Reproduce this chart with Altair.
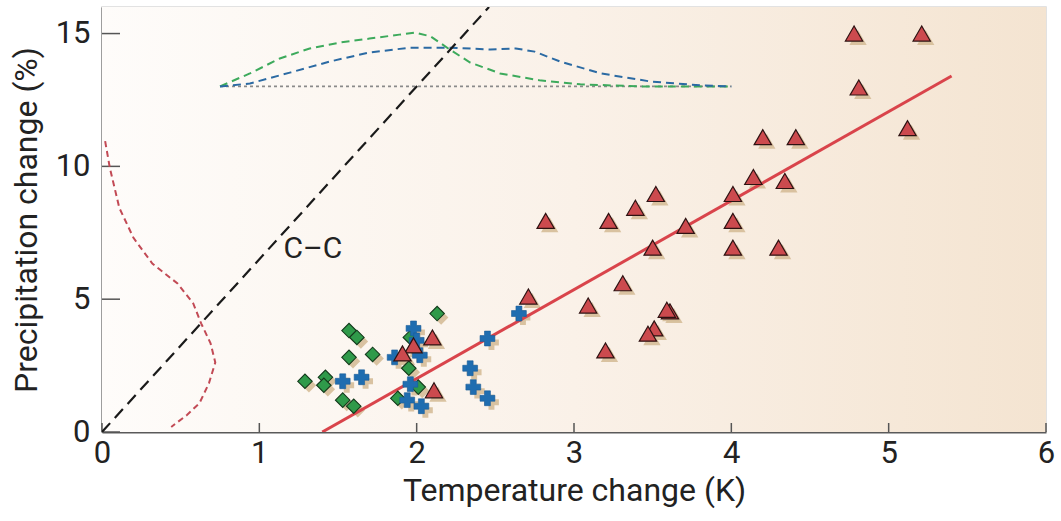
import altair as alt
import pandas as pd

# --- model results: temperature change (K) vs precipitation change (%) ---
tri_x = [4.78, 5.21, 4.81, 5.12, 4.20, 4.41, 4.14, 4.34, 4.01, 3.52, 3.39, 3.22, 2.82, 3.71, 4.01,
         3.50, 4.01, 4.30, 3.31, 2.71, 3.09, 3.61, 3.59, 3.51, 3.47, 3.20, 2.10, 1.98, 1.91, 2.11]
tri_y = [15.0, 15.0, 12.97, 11.44, 11.1, 11.1, 9.6, 9.45, 8.96, 8.96, 8.44, 7.95, 7.95, 7.76, 7.95,
         6.94, 6.94, 6.94, 5.6, 5.1, 4.76, 4.54, 4.6, 3.9, 3.7, 3.07, 3.56, 3.26, 2.96, 1.57]

cross_x = [1.98, 2.00, 2.02, 1.86, 1.53, 1.65, 1.96, 1.94, 2.03, 2.34, 2.36, 2.45, 2.45, 2.65]
cross_y = [3.90, 3.45, 2.89, 2.81, 1.91, 2.06, 1.80, 1.20, 0.97, 2.40, 1.69, 1.27, 3.52, 4.46]

dia_x = [2.13, 1.57, 1.62, 1.57, 1.72, 1.95, 1.96, 1.29, 1.42, 1.41, 1.53, 1.60, 1.88, 2.01]
dia_y = [4.46, 3.82, 3.56, 2.81, 2.92, 2.40, 3.56, 1.91, 2.06, 1.76, 1.20, 0.97, 1.27, 1.69]

# regression fit through the triangles
fit_x = [1.40, 5.40]
fit_y = [0.0, 13.4]

# Clausius-Clapeyron scaling line
cc_x = [0.0, 2.46]
cc_y = [0.0, 16.0]
cc_label = ["C\u2013C"]
cc_label_x = [1.34]
cc_label_y = [6.9]

# temperature-change distributions drawn along the top (baseline at 13 %)
green_x = [0.75, 0.94, 1.13, 1.32, 1.51, 1.70, 1.89, 1.99, 2.09, 2.21, 2.34, 2.53, 2.78, 3.04, 3.42, 4.00]
green_y = [13.01, 13.5, 14.06, 14.44, 14.66, 14.81, 14.96, 15.04, 14.89, 14.4, 13.91, 13.5, 13.24, 13.09, 13.01, 13.01]
blue_x = [0.75, 0.94, 1.20, 1.45, 1.70, 1.96, 2.21, 2.47, 2.63, 2.75, 2.91, 3.17, 3.48, 3.80, 4.00]
blue_y = [13.01, 13.12, 13.54, 13.95, 14.29, 14.47, 14.47, 14.4, 14.44, 14.32, 13.95, 13.5, 13.2, 13.05, 13.01]
base_x = [0.75, 4.00]
base_y = [13.01, 13.01]

# precipitation-change distribution drawn along the left
red_x = [0.02, 0.05, 0.11, 0.20, 0.32, 0.48, 0.58, 0.63, 0.69, 0.72, 0.68, 0.62, 0.54, 0.44]
red_y = [10.95, 9.94, 8.44, 7.31, 6.34, 5.59, 4.84, 4.09, 3.34, 2.62, 1.84, 1.09, 0.64, 0.19]

x_ticks = [0, 1, 2, 3, 4, 5, 6]
y_ticks = [0, 5, 10, 15]

W, H = 944, 425
FONT = "Roboto"

xs = alt.Scale(domain=[0, 6], nice=False)
ys = alt.Scale(domain=[0, 16], nice=False)


def df(xv, yv, **extra):
    d = pd.DataFrame({"x": xv, "y": yv})
    for k, v in extra.items():
        d[k] = v
    return d


def X(**kw):
    return alt.X("x:Q", scale=xs, **kw)


def Y(**kw):
    return alt.Y("y:Q", scale=ys, **kw)


# gradient backdrop of the plotting area
backdrop = alt.Chart(pd.DataFrame({"a": [0]})).mark_rect(
    color=alt.LinearGradient(
        gradient="linear", x1=0, x2=1, y1=0, y2=0,
        stops=[alt.GradientStop(color="#fefcfa", offset=0),
               alt.GradientStop(color="#faf1e8", offset=0.5),
               alt.GradientStop(color="#f4e4d1", offset=1)],
    )
).encode(x=alt.value(0), x2=alt.value(W), y=alt.value(0), y2=alt.value(H))

axes = alt.Chart(df([0], [0])).mark_point(opacity=0).encode(
    x=X(title="Temperature change (K)",
        axis=alt.Axis(values=x_ticks, format="d", ticks=False, grid=False, labelFlush=False)),
    y=Y(title="Precipitation change (%)",
        axis=alt.Axis(values=y_ticks, format="d", ticks=False, grid=False, labelFlush=False)),
)

xtick_rules = alt.Chart(pd.DataFrame({"x": x_ticks})).mark_rule(
    color="#555555", strokeWidth=1.5
).encode(x=X(), y=alt.value(H), y2=alt.value(H - 9))

ytick_rules = alt.Chart(pd.DataFrame({"y": y_ticks})).mark_rule(
    color="#555555", strokeWidth=1.5
).encode(y=Y(), x=alt.value(0), x2=alt.value(18))


def line(d, color, width, dash=None):
    kw = dict(color=color, strokeWidth=width, clip=True)
    if dash:
        kw["strokeDash"] = dash
    return alt.Chart(d).mark_line(**kw).encode(x=X(), y=Y(), order="i:Q")


def with_order(xv, yv):
    return df(xv, yv, i=list(range(len(xv))))


cc_line = line(with_order(cc_x, cc_y), "#1a1a1a", 2.2, [12, 7])
fit_line = line(with_order(fit_x, fit_y), "#d9444b", 3)
base_line = line(with_order(base_x, base_y), "#8a8a8a", 1.6, [3, 3])
green_line = line(with_order(green_x, green_y), "#3daa5c", 2, [8, 5])
blue_line = line(with_order(blue_x, blue_y), "#2b6aa3", 2, [8, 5])
red_line = line(with_order(red_x, red_y), "#c24a55", 2, [6, 4])

cc_text = alt.Chart(pd.DataFrame({"x": cc_label_x, "y": cc_label_y, "t": cc_label})).mark_text(
    font=FONT, fontSize=30, color="#222222", align="center", baseline="middle"
).encode(x=X(), y=Y(), text="t:N")

SHADOW = "#d5bc98"


def markers(xv, yv, shape, size, fill, stroke, sw):
    d = df(xv, yv)
    shadow = alt.Chart(d).mark_point(
        shape=shape, size=size, filled=True, color=SHADOW, opacity=0.9,
        xOffset=4, yOffset=4,
    ).encode(x=X(), y=Y())
    main = alt.Chart(d).mark_point(
        shape=shape, size=size, filled=True, fill=fill, stroke=stroke,
        strokeWidth=sw, opacity=1,
    ).encode(x=X(), y=Y())
    return shadow, main


tri_s, tri_m = markers(tri_x, tri_y, "triangle-up", 300, "#cc4a4e", "#2e1212", 1.2)
cr_s, cr_m = markers(cross_x, cross_y, "cross", 220, "#1f6db0", "#1a5d98", 0.6)
di_s, di_m = markers(dia_x, dia_y, "diamond", 210, "#2f9a4a", "#143a1c", 1.1)

chart = alt.layer(
    backdrop, axes, xtick_rules, ytick_rules,
    base_line, green_line, blue_line, red_line, cc_line, cc_text,
    di_s, cr_s, tri_s, fit_line,
    di_m, cr_m, tri_m,
).properties(
    width=W, height=H,
    autosize=alt.AutoSizeParams(type="none"),
    padding={"left": 102, "top": 7, "right": 15, "bottom": 89},
    background="#ffffff",
).configure_view(
    stroke="#d9d9d9", strokeWidth=1.5
).configure_axis(
    domainColor="#5a5a5a", domainWidth=2,
    labelFont=FONT, labelFontSize=31, labelColor="#222222",
    titleFont=FONT, titleFontSize=32, titleColor="#222222", titleFontWeight="normal",
).configure_axisX(
    labelPadding=6, titlePadding=7,
).configure_axisY(
    labelPadding=12, titlePadding=12,
)

chart.save("out.html", embed_options={"renderer": "svg", "actions": False})
